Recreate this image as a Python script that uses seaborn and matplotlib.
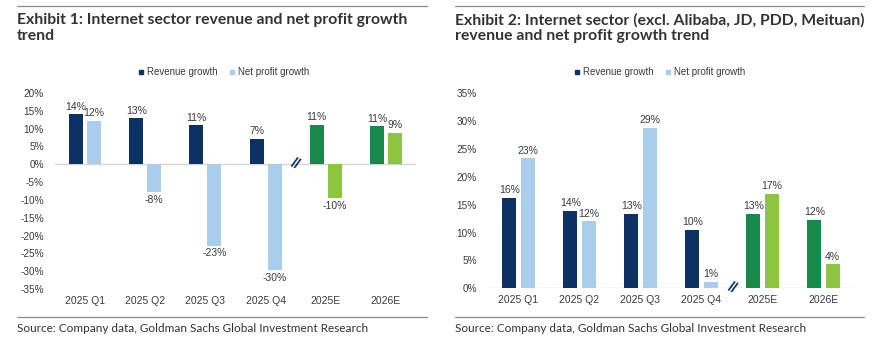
import matplotlib
matplotlib.use("Agg")
import matplotlib.pyplot as plt
from matplotlib.lines import Line2D
import seaborn as sns
import pandas as pd

categories = ["2025 Q1", "2025 Q2", "2025 Q3", "2025 Q4", "2025E", "2026E"]
forecast = ["2025E", "2026E"]
series_names = ["Revenue growth", "Net profit growth"]

rev1 = [14.0, 12.9, 10.9, 7.2, 11.1, 10.6]
net1 = [12.2, -7.8, -22.8, -29.6, -9.6, 8.8]
rev1_labels = ["14%", "13%", "11%", "7%", "11%", "11%"]
net1_labels = ["12%", "-8%", "-23%", "-30%", "-10%", "9%"]

rev2 = [16.2, 13.9, 13.3, 10.5, 13.4, 12.3]
net2 = [23.3, 12.0, 28.8, 1.1, 16.9, 4.3]
rev2_labels = ["16%", "14%", "13%", "10%", "13%", "12%"]
net2_labels = ["23%", "12%", "29%", "1%", "17%", "4%"]

title1 = "Exhibit 1: Internet sector revenue and net profit growth\ntrend"
title2 = "Exhibit 2: Internet sector (excl. Alibaba, JD, PDD, Meituan)\nrevenue and net profit growth trend"
source = "Source: Company data, Goldman Sachs Global Investment Research"

NAVY = "#0b3262"
LBLUE = "#a9cdeb"
DGREEN = "#17894b"
LGREEN = "#8cc540"
TXT = "#3a3a3a"

sns.set_theme(style="white")
plt.rcParams["font.family"] = ["Liberation Sans", "DejaVu Sans"]

W, H = 878, 345
fig = plt.figure(figsize=(W / 100, H / 100), dpi=100)
fig.patch.set_facecolor("white")


def px_axes(x0, x1, ytop, ybot):
    return fig.add_axes([x0 / W, (H - ybot) / H, (x1 - x0) / W, (ybot - ytop) / H])


def make_panel(ax, rev, net, rlab, nlab, ylim, yticks):
    df = pd.DataFrame({
        "category": categories * 2,
        "series": [series_names[0]] * len(categories) + [series_names[1]] * len(categories),
        "value": rev + net,
    })
    sns.barplot(data=df, x="category", y="value", hue="series", order=categories,
                hue_order=series_names, palette=[NAVY, LBLUE], width=0.6, gap=0.22,
                legend=False, ax=ax, errorbar=None, saturation=1)
    for ci, cont in enumerate(ax.containers):
        for i, bar in enumerate(cont):
            if categories[i] in forecast:
                bar.set_facecolor(DGREEN if ci == 0 else LGREEN)
            else:
                bar.set_facecolor(NAVY if ci == 0 else LBLUE)
            bar.set_edgecolor("none")
        labs = rlab if ci == 0 else nlab
        ax.bar_label(cont, labels=labs, padding=2, fontsize=7.5, color=TXT)
    ax.axhline(0, color="#d4d4d4", lw=1, zorder=0)
    ax.set_ylim(*ylim)
    ax.set_xlim(-0.5, len(categories) - 0.5)
    ax.set_yticks(yticks)
    ax.set_yticklabels([f"{t:.0f}%" for t in yticks], fontsize=7.2, color=TXT)
    ax.tick_params(axis="x", labelsize=7.5, colors=TXT, length=0, pad=5)
    ax.tick_params(axis="y", length=0, pad=8)
    ax.set_xlabel("")
    ax.set_ylabel("")
    for s in ax.spines.values():
        s.set_visible(False)
    ax.patch.set_alpha(0)
    # axis break mark between actuals and estimates
    ax.text(3.5, 0, "//", ha="center", va="center", fontsize=11, color=NAVY,
            fontweight="bold", rotation=-25)


ax1 = px_axes(55, 416, 93, 289)
make_panel(ax1, rev1, net1, rev1_labels, net1_labels, (-35, 20), list(range(-35, 21, 5)))
ax2 = px_axes(488, 854, 93.3, 288.3)
make_panel(ax2, rev2, net2, rev2_labels, net2_labels, (0, 35), list(range(0, 36, 5)))

# legends
handles = [Line2D([], [], marker="s", ls="", color=NAVY, markersize=3.5),
           Line2D([], [], marker="s", ls="", color=LBLUE, markersize=3.5)]
for cx in (224 / W, 660 / W):
    fig.legend(handles, series_names, loc="center", bbox_to_anchor=(cx, (H - 72) / H),
               ncol=2, frameon=False, fontsize=7, handlelength=0.6, handletextpad=0.3,
               columnspacing=1.2, labelcolor=TXT)

# titles, rules, sources
for x0, x1, title in ((17, 427, title1), (455, 864, title2)):
    fig.add_artist(Line2D([x0 / W, x1 / W], [(H - 6) / H] * 2, color="#8a8a8a", lw=0.9))
    fig.add_artist(Line2D([x0 / W, x1 / W], [(H - 317) / H] * 2, color="#8a8a8a", lw=0.9))
    fig.text(x0 / W, (H - 13) / H, title, ha="left", va="top", fontsize=11.3,
             fontweight="bold", color="#333333", family=["Lato", "DejaVu Sans"],
             linespacing=1.15)
    fig.text(x0 / W, (H - 329) / H, source, ha="left", va="center", fontsize=8.5,
             color="#333333", family=["Lato", "DejaVu Sans"])

fig.savefig("out.png", dpi=100, facecolor="white")
